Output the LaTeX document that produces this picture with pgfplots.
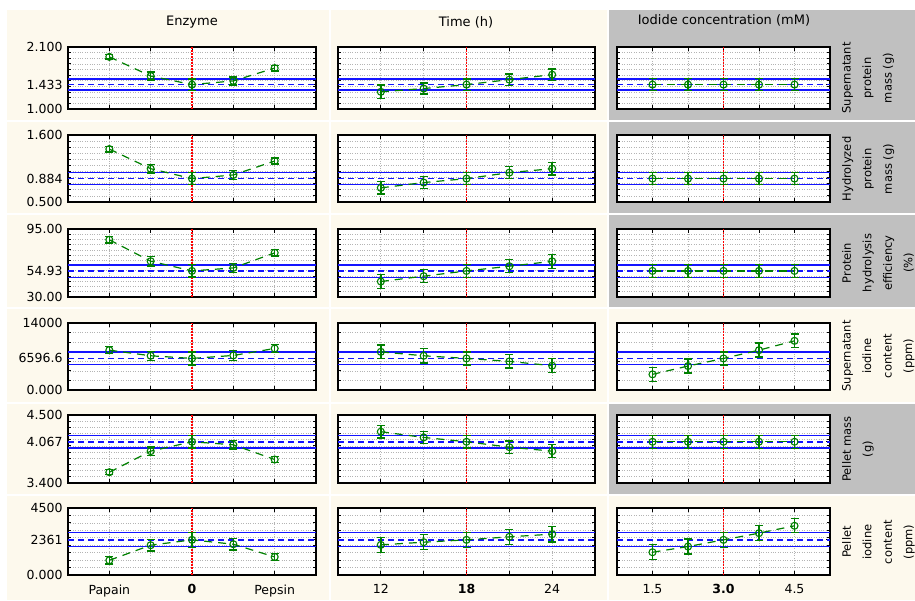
\documentclass[border=0pt]{standalone}
\usepackage{fontspec}
\setmainfont{DejaVu Sans}
\usepackage{pgfplots}
\pgfplotsset{compat=1.18}
\definecolor{cream}{RGB}{253,249,237}
\definecolor{panelgray}{RGB}{192,192,192}
\definecolor{dgreen}{RGB}{0,128,0}
\definecolor{gridgray}{RGB}{180,180,180}
\definecolor{pblue}{RGB}{20,20,255}
\newcommand{\tfont}{\fontsize{12.5}{14}\selectfont}
\newcommand{\rfont}{\fontsize{11.5}{20.5}\selectfont}
\pgfplotsset{
  prof/.style={
    scale only axis, anchor=south west,
    scaled y ticks=false, scaled x ticks=false,
    axis background/.style={fill=white},
    axis line style={line width=1.5pt, black},
    tick align=inside,
    major tick length=4pt, minor tick length=3pt,
    tick style={black, line width=0.9pt},
    xmajorgrids, yminorgrids, ymajorgrids=false,
    major grid style={gridgray, dotted, line width=0.7pt},
    minor grid style={gridgray, dotted, line width=0.7pt},
    xticklabels={}, yticklabels={},
    ticklabel style={font=\tfont},
    yticklabel style={xshift=-2pt},
    xticklabel style={yshift=-6pt},
  },
  c1/.style={xmin=-3,xmax=3,xtick={-2,-1,0,1,2},width=248pt},
  c2/.style={xmin=9,xmax=27,xtick={12,15,18,21,24},width=257pt},
  c3/.style={xmin=0.75,xmax=5.25,xtick={1.5,2.25,3,3.75,4.5},width=213pt},
  r1/.style={ymin=1,ymax=2.1,ytick={1,1.433,2.1},minor ytick={1.1,1.2,1.3,1.4,1.5,1.6,1.7,1.8,1.9,2.0},height=62pt},
  r2/.style={ymin=0.5,ymax=1.6,ytick={0.5,0.884,1.6},minor ytick={0.6,0.7,0.8,0.9,1.0,1.1,1.2,1.3,1.4,1.5},height=67pt},
  r3/.style={ymin=30,ymax=95,ytick={30,54.93,95},minor ytick={35,40,45,50,55,60,65,70,75,80,85,90},height=68pt},
  r4/.style={ymin=0,ymax=14000,ytick={0,6596.6,14000},minor ytick={2000,4000,6000,8000,10000,12000},height=67pt},
  r5/.style={ymin=3.4,ymax=4.5,ytick={3.4,4.067,4.5},minor ytick={3.5,3.6,3.7,3.8,3.9,4.0,4.1,4.2,4.3,4.4},height=68pt},
  r6/.style={ymin=0,ymax=4500,ytick={0,2361,4500},minor ytick={500,1000,1500,2000,2500,3000,3500,4000},height=67pt},
  dat/.style={dgreen, line width=1.2pt, dash pattern=on 8pt off 6pt, mark=o,
    mark options={solid, line width=1.1pt, mark size=3.5pt},
    error bars/.cd, y dir=both, y explicit,
    error bar style={solid, line width=1.4pt},
    error mark=|,
    error mark options={solid, line width=1.4pt, mark size=4pt}},
}
% reference lines: xmin xmax lo mean hi xc ymin ymax
\newcommand{\refs}[8]{%
  \addplot[pblue,line width=1.5pt] coordinates {(#1,#3) (#2,#3)};
  \addplot[pblue,line width=1.5pt,dash pattern=on 6pt off 4pt] coordinates {(#1,#4) (#2,#4)};
  \addplot[pblue,line width=1.5pt] coordinates {(#1,#5) (#2,#5)};
  \addplot[red,line width=1.4pt,dash pattern=on 1.6pt off 1.4pt] coordinates {(#6,#7) (#6,#8)};
}
\begin{document}
\begin{tikzpicture}
\fill[white] (0pt,0pt) rectangle (915pt,600pt);
% panels
\foreach \ya/\yb in {480/590,387/478,293/385,198/291,106/196,0/104}{
  \fill[cream] (7pt,\ya pt) rectangle (329pt,\yb pt);
  \fill[cream] (331pt,\ya pt) rectangle (607pt,\yb pt);
  \fill[cream] (609pt,\ya pt) rectangle (915pt,\yb pt);
}
\fill[panelgray] (609pt,480pt) rectangle (915pt,590pt);
\fill[panelgray] (609pt,387pt) rectangle (915pt,478pt);
\fill[panelgray] (609pt,293pt) rectangle (915pt,385pt);
\fill[panelgray] (609pt,106pt) rectangle (915pt,196pt);
% titles
\node[font=\fontsize{13}{15}\selectfont] at (192pt,578pt) {Enzyme};
\node[font=\fontsize{13}{15}\selectfont] at (466pt,578pt) {Time (h)};
\node[font=\fontsize{13}{15}\selectfont] at (724pt,580pt) {Iodide concentration (mM)};
% right labels
\node[rotate=90,anchor=north,align=center,font=\rfont,inner sep=0pt] at (842pt,522pt) {Supernatant\\protein\\mass (g)};
\node[rotate=90,anchor=north,align=center,font=\rfont,inner sep=0pt] at (842pt,431pt) {Hydrolyzed\\protein\\mass (g)};
\node[rotate=90,anchor=north,align=center,font=\rfont,inner sep=0pt] at (842pt,337pt) {Protein\\hydrolysis\\efficiency\\(\%)};
\node[rotate=90,anchor=north,align=center,font=\rfont,inner sep=0pt] at (842pt,244pt) {Supernatant\\iodine\\content\\(ppm)};
\node[rotate=90,anchor=north,align=center,font=\rfont,inner sep=0pt] at (842pt,151pt) {Pellet mass\\(g)};
\node[rotate=90,anchor=north,align=center,font=\rfont,inner sep=0pt] at (842pt,58pt) {Pellet\\iodine\\content\\(ppm)};

% ===== Row 1: Supernatant protein mass =====
\begin{axis}[prof,c1,r1,at={(68pt,491pt)},yticklabels={1.000,1.433,2.100}]
\refs{-3}{3}{1.338}{1.433}{1.533}{0}{1}{2.1}
\addplot[dat] coordinates {(-2,1.925) +- (0,0.04) (-1,1.585) +- (0,0.07) (0,1.433) +- (0,0.1) (1,1.498) +- (0,0.07) (2,1.726) +- (0,0.05)};
\end{axis}
\begin{axis}[prof,c2,r1,at={(338pt,491pt)}]
\refs{9}{27}{1.338}{1.433}{1.533}{18}{1}{2.1}
\addplot[dat] coordinates {(12,1.305) +- (0,0.12) (15,1.363) +- (0,0.1) (18,1.433) +- (0,0.1) (21,1.521) +- (0,0.1) (24,1.609) +- (0,0.1)};
\end{axis}
\begin{axis}[prof,c3,r1,at={(617pt,491pt)}]
\refs{0.75}{5.25}{1.338}{1.433}{1.533}{3}{1}{2.1}
\addplot[dat] coordinates {(1.5,1.433) +- (0,0.105) (2.25,1.433) +- (0,0.105) (3,1.433) +- (0,0.105) (3.75,1.433) +- (0,0.105) (4.5,1.433) +- (0,0.105)};
\end{axis}

% ===== Row 2: Hydrolyzed protein mass =====
\begin{axis}[prof,c1,r2,at={(68pt,398pt)},yticklabels={0.500,0.884,1.600}]
\refs{-3}{3}{0.79}{0.884}{0.987}{0}{0.5}{1.6}
\addplot[dat] coordinates {(-2,1.369) +- (0,0.045) (-1,1.047) +- (0,0.07) (0,0.884) +- (0,0.1) (1,0.944) +- (0,0.07) (2,1.173) +- (0,0.05)};
\end{axis}
\begin{axis}[prof,c2,r2,at={(338pt,398pt)}]
\refs{9}{27}{0.79}{0.884}{0.987}{18}{0.5}{1.6}
\addplot[dat] coordinates {(12,0.732) +- (0,0.1) (15,0.819) +- (0,0.1) (18,0.884) +- (0,0.1) (21,0.982) +- (0,0.1) (24,1.047) +- (0,0.105)};
\end{axis}
\begin{axis}[prof,c3,r2,at={(617pt,398pt)}]
\refs{0.75}{5.25}{0.79}{0.884}{0.987}{3}{0.5}{1.6}
\addplot[dat] coordinates {(1.5,0.884) +- (0,0.1) (2.25,0.884) +- (0,0.1) (3,0.884) +- (0,0.1) (3.75,0.884) +- (0,0.1) (4.5,0.884) +- (0,0.1)};
\end{axis}

% ===== Row 3: Protein hydrolysis efficiency =====
\begin{axis}[prof,c1,r3,at={(68pt,303pt)},yticklabels={30.00,54.93,95.00}]
\refs{-3}{3}{48.85}{54.93}{60.7}{0}{30}{95}
\addplot[dat] coordinates {(-2,84.7) +- (0,3.2) (-1,64.2) +- (0,4.6) (0,54.93) +- (0,6) (1,57.8) +- (0,4.2) (2,72.2) +- (0,3)};
\end{axis}
\begin{axis}[prof,c2,r3,at={(338pt,303pt)}]
\refs{9}{27}{48.85}{54.93}{60.7}{18}{30}{95}
\addplot[dat] coordinates {(12,44.8) +- (0,6.7) (15,49.9) +- (0,6.2) (18,54.93) +- (0,6.3) (21,59.4) +- (0,6.2) (24,64.1) +- (0,6.7)};
\end{axis}
\begin{axis}[prof,c3,r3,at={(617pt,303pt)}]
\refs{0.75}{5.25}{48.85}{54.93}{60.7}{3}{30}{95}
\addplot[dat] coordinates {(1.5,54.93) +- (0,6.2) (2.25,54.93) +- (0,6.2) (3,54.93) +- (0,6.2) (3.75,54.93) +- (0,6.2) (4.5,54.93) +- (0,6.2)};
\end{axis}

% ===== Row 4: Supernatant iodine content =====
\begin{axis}[prof,c1,r4,at={(68pt,210pt)},yticklabels={0.000,6596.6,14000}]
\refs{-3}{3}{5280}{6596.6}{7914}{0}{0}{14000}
\addplot[dat] coordinates {(-2,8330) +- (0,760) (-1,7151) +- (0,935) (0,6596.6) +- (0,1350) (1,7220) +- (0,1000) (2,8676) +- (0,800)};
\end{axis}
\begin{axis}[prof,c2,r4,at={(338pt,210pt)}]
\refs{9}{27}{5280}{6596.6}{7914}{18}{0}{14000}
\addplot[dat] coordinates {(12,7976) +- (0,1450) (15,7149) +- (0,1500) (18,6596.6) +- (0,1350) (21,5976) +- (0,1400) (24,5080) +- (0,1450)};
\end{axis}
\begin{axis}[prof,c3,r4,at={(617pt,210pt)}]
\refs{0.75}{5.25}{5280}{6596.6}{7914}{3}{0}{14000}
\addplot[dat] coordinates {(1.5,3271) +- (0,1450) (2.25,5003) +- (0,1450) (3,6596.6) +- (0,1350) (3.75,8330) +- (0,1450) (4.5,10270) +- (0,1450)};
\end{axis}

% ===== Row 5: Pellet mass =====
\begin{axis}[prof,c1,r5,at={(68pt,117pt)},yticklabels={3.400,4.067,4.500}]
\refs{-3}{3}{3.964}{4.067}{4.170}{0}{3.4}{4.5}
\addplot[dat] coordinates {(-2,3.574) +- (0,0.04) (-1,3.915) +- (0,0.07) (0,4.067) +- (0,0.1) (1,4.018) +- (0,0.07) (2,3.780) +- (0,0.05)};
\end{axis}
\begin{axis}[prof,c2,r5,at={(338pt,117pt)}]
\refs{9}{27}{3.964}{4.067}{4.170}{18}{3.4}{4.5}
\addplot[dat] coordinates {(12,4.230) +- (0,0.105) (15,4.137) +- (0,0.1) (18,4.067) +- (0,0.1) (21,3.980) +- (0,0.1) (24,3.915) +- (0,0.105)};
\end{axis}
\begin{axis}[prof,c3,r5,at={(617pt,117pt)}]
\refs{0.75}{5.25}{3.964}{4.067}{4.170}{3}{3.4}{4.5}
\addplot[dat] coordinates {(1.5,4.067) +- (0,0.105) (2.25,4.067) +- (0,0.105) (3,4.067) +- (0,0.105) (3.75,4.067) +- (0,0.105) (4.5,4.067) +- (0,0.105)};
\end{axis}

% ===== Row 6: Pellet iodine content =====
\begin{axis}[prof,c1,r6,at={(68pt,25pt)},yticklabels={0.000,2361,4500},xticklabels={Papain,,\textbf{0},,Pepsin}]
\refs{-3}{3}{1911}{2361}{2856}{0}{0}{4500}
\addplot[dat] coordinates {(-2,988) +- (0,240) (-1,2001) +- (0,380) (0,2361) +- (0,495) (1,2068) +- (0,380) (2,1213) +- (0,240)};
\end{axis}
\begin{axis}[prof,c2,r6,at={(338pt,25pt)},xticklabels={12,,\textbf{18},,24}]
\refs{9}{27}{1911}{2361}{2856}{18}{0}{4500}
\addplot[dat] coordinates {(12,2024) +- (0,500) (15,2204) +- (0,500) (18,2361) +- (0,500) (21,2564) +- (0,500) (24,2744) +- (0,520)};
\end{axis}
\begin{axis}[prof,c3,r6,at={(617pt,25pt)},xticklabels={1.5,,\textbf{3.0},,4.5}]
\refs{0.75}{5.25}{1911}{2361}{2856}{3}{0}{4500}
\addplot[dat] coordinates {(1.5,1529) +- (0,500) (2.25,1911) +- (0,500) (3,2361) +- (0,495) (3.75,2811) +- (0,500) (4.5,3306) +- (0,470)};
\end{axis}
\end{tikzpicture}
\end{document}
